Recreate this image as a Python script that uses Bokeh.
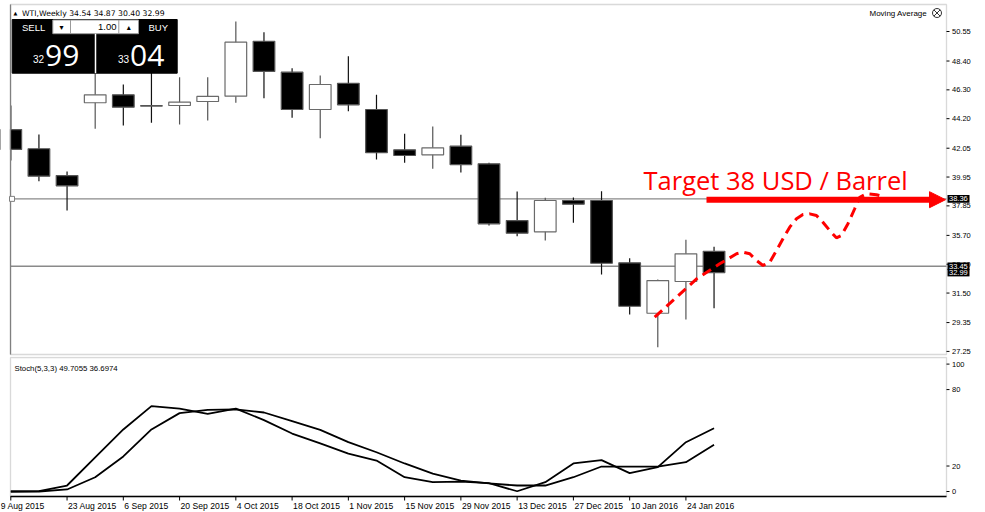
from bokeh.plotting import figure
from bokeh.layouts import column
from bokeh.models import (Arrow, NormalHead, Range1d, ColumnDataSource, BoxAnnotation)
from bokeh.core.properties import value
from bokeh.embed import file_html
from bokeh.resources import INLINE

# ---------------- data ----------------
DATE_LABELS = ["9 Aug 2015", "23 Aug 2015", "6 Sep 2015", "20 Sep 2015", "4 Oct 2015",
               "18 Oct 2015", "1 Nov 2015", "15 Nov 2015", "29 Nov 2015", "13 Dec 2015",
               "27 Dec 2015", "10 Jan 2016", "24 Jan 2016"]
DATE_TICK_IDX = [0, 2, 4, 6, 8, 10, 12, 14, 16, 18, 20, 22, 24]

OPEN = [43.41, 42.01, 40.06, 45.36, 45.94, 45.15, 45.16, 45.45, 45.84, 49.84, 47.59, 44.87, 46.78,
        44.87, 41.93, 41.57, 42.20, 40.91, 36.78, 35.96, 38.24, 38.24, 33.70, 30.03, 32.34, 34.54]
HIGH = [45.16, 43.05, 40.35, 48.10, 46.69, 47.90, 47.22, 47.22, 51.28, 50.50, 47.88, 47.35, 48.75,
        45.94, 43.10, 43.63, 43.03, 40.99, 38.90, 38.44, 38.46, 38.92, 34.04, 32.49, 35.38, 34.87]
LOW = [41.15, 39.65, 37.51, 43.46, 43.70, 43.90, 43.78, 44.07, 45.36, 45.69, 44.26, 42.78, 44.75,
       41.23, 40.99, 40.55, 40.28, 36.42, 35.64, 35.33, 36.62, 32.85, 29.94, 27.56, 29.57, 30.40]
CLOSE = [41.96, 40.01, 39.31, 45.94, 45.04, 45.12, 45.40, 45.82, 49.77, 47.64, 44.87, 46.69, 45.21,
         41.72, 41.52, 42.08, 40.86, 36.54, 35.86, 38.24, 37.97, 33.67, 30.54, 32.41, 34.36, 32.99]

STOCH_K = [0.0, 0.3, 4.7, 26.7, 48.7, 67.0, 65.1, 61.0, 65.1, 56.0, 45.5, 37.7, 29.8,
           24.3, 11.2, 7.3, 7.8, 6.5, 0.2, 7.3, 22.0, 24.6, 14.4, 19.1, 38.7, 49.7]
STOCH_D = [0.0, 0.0, 1.6, 11.2, 27.5, 48.7, 61.5, 64.1, 64.4, 62.0, 55.2, 48.4, 38.7,
           30.8, 22.0, 14.1, 8.6, 6.3, 4.7, 4.7, 11.2, 19.6, 19.6, 19.6, 23.0, 36.7]

PRICE_TICKS = [50.55, 48.40, 46.30, 44.20, 42.05, 39.95, 37.85, 35.70, 33.60, 31.50, 29.35, 27.25]
STOCH_TICKS = [0, 20, 80, 100]
LEVEL_LINES = [38.36, 33.45]
BID_PRICE = 32.99
TARGET_PRICE = 38.30

# hand-drawn projected path (bar index, price)
FORECAST_IDX = [22.89, 24.38, 25.20, 25.80, 26.03, 26.27, 26.51, 26.74, 26.98, 27.22, 27.45, 27.69,
                27.93, 28.16, 28.40, 28.64, 28.87, 29.11, 29.35, 29.53, 29.76, 30.00, 30.18, 30.42,
                30.77, 31.01]
FORECAST_PRICE = [29.74, 32.54, 33.63, 34.36, 34.48, 34.36, 33.87, 33.51, 33.75, 34.60, 35.45, 36.30,
                  36.91, 37.22, 37.27, 37.15, 36.66, 36.06, 35.52, 35.69, 36.55, 37.64, 38.48, 38.73,
                  38.66, 38.53]

# ---------------- page calibration (pixels) ----------------
W = 985
MAIN_H = 356
STOCH_H = 156
PX_PER_BAR = 28.13
BAR0_PX = 10.3
PX_PER_USD = 13.73
PRICE_REF, PRICE_REF_PX = 50.55, 31.0
PX_PER_STOCH = 1.274
STOCH0_PX = 491.0


def px_x(px):
    return (px - BAR0_PX) / PX_PER_BAR


def px_y(py):
    return PRICE_REF - (py - PRICE_REF_PX) / PX_PER_USD


def px_s(py):
    return (STOCH0_PX - py) / PX_PER_STOCH


SMALL = "Liberation Sans"
FRAME_COL = "#808080"


def make_fig(h, yr):
    f = figure(output_backend="svg", toolbar_location=None,
               x_range=Range1d(px_x(0), px_x(W)), y_range=yr,
               x_axis_location=None, y_axis_location=None,
               frame_width=W, frame_height=h)
    f.min_border = 0
    f.min_border_left = 0
    f.min_border_right = 0
    f.min_border_top = 0
    f.min_border_bottom = 0
    f.outline_line_color = None
    f.background_fill_color = "white"
    f.border_fill_color = "white"
    f.grid.visible = False
    return f


# ---------------- main price panel ----------------
p1 = make_fig(MAIN_H, Range1d(px_y(MAIN_H), px_y(0)))

p1.add_layout(BoxAnnotation(left=px_x(10), right=px_x(946), top=px_y(4), bottom=px_y(354),
                            fill_alpha=0, line_color=FRAME_COL, line_width=1.3, level="underlay"))

for lv in LEVEL_LINES:
    p1.segment(x0=[px_x(10)], y0=[lv], x1=[px_x(946)], y1=[lv], line_color="#8a8a8a", line_width=1.4)

idx = list(range(len(OPEN)))
up = [c >= o for o, c in zip(OPEN, CLOSE)]


def sub(arr, flag):
    return [a for a, f in zip(arr, up) if f == flag]


for flag, body, wick, edge in [(True, "white", "#555555", "#6a6a6a"), (False, "black", "#111111", "#555555")]:
    src = ColumnDataSource(dict(
        x=sub(idx, flag), h=sub(HIGH, flag), l=sub(LOW, flag),
        top=[max(o, c) for o, c in zip(sub(OPEN, flag), sub(CLOSE, flag))],
        bot=[min(o, c) for o, c in zip(sub(OPEN, flag), sub(CLOSE, flag))]))
    p1.segment(x0="x", y0="h", x1="x", y1="l", source=src, line_color=wick, line_width=1.2)
    p1.vbar(x="x", width=0.77, top="top", bottom="bot", source=src,
            fill_color=body, line_color=edge, line_width=1.2)

# hide anything left of the chart border
p1.quad(left=[px_x(0)], right=[px_x(9.4)], top=[px_y(0)], bottom=[px_y(MAIN_H)],
        fill_color="white", line_color=None)
p1.segment(x0=[px_x(10)], y0=[px_y(4)], x1=[px_x(10)], y1=[px_y(354)], line_color=FRAME_COL, line_width=1.3)

# marker at left end of the level line
p1.scatter(x=[px_x(11.5)], y=[LEVEL_LINES[0]], marker="square", size=5,
           fill_color="white", line_color=FRAME_COL)

# projected dashed path
p1.line(FORECAST_IDX, FORECAST_PRICE, line_color="#ff0000", line_width=3, line_dash="10 6")

# target arrow and text
p1.add_layout(Arrow(end=NormalHead(size=16, fill_color="#ff0000", line_color="#ff0000"),
                    x_start=px_x(706), y_start=TARGET_PRICE, x_end=px_x(945), y_end=TARGET_PRICE,
                    line_color="#ff0000", line_width=6))
p1.text(x=[px_x(643)], y=[px_y(179.5)], text=["Target 38 USD / Barrel"], text_color="#ff0000",
        text_font=value("Open Sans"), text_font_size="25.5px", text_baseline="middle")

# one-click trading panel
p1.quad(left=[px_x(11.7)], right=[px_x(176.7)], top=[px_y(19)], bottom=[px_y(72.7)],
        fill_color="black", line_color="black")
p1.quad(left=[px_x(52.3)], right=[px_x(138)], top=[px_y(19.5)], bottom=[px_y(33.2)],
        fill_color="white", line_color="#9a9a9a", line_width=1)
p1.segment(x0=[px_x(70), px_x(118.3)], y0=[px_y(19.5)] * 2, x1=[px_x(70), px_x(118.3)],
           y1=[px_y(33.2)] * 2, line_color="#9a9a9a", line_width=1)
p1.segment(x0=[px_x(95)], y0=[px_y(33.2)], x1=[px_x(95)], y1=[px_y(72.7)],
           line_color="white", line_width=1.5)
p1.text(x=[px_x(21.5), px_x(148)], y=[px_y(26.5)] * 2, text=["SELL", "BUY"], text_color="white",
        text_font=value(SMALL), text_font_size="9.5px", text_baseline="middle")
p1.text(x=[px_x(61), px_x(128.3)], y=[px_y(26.5)] * 2, text=["\u25BE", "\u25B4"], text_color="black",
        text_font=value("DejaVu Sans"), text_font_size="8px", text_baseline="middle", text_align="center")
p1.text(x=[px_x(116)], y=[px_y(26.5)], text=["1.00"], text_color="black",
        text_font=value(SMALL), text_font_size="9.5px", text_baseline="middle", text_align="right")
p1.text(x=[px_x(43.5), px_x(128.5)], y=[px_y(58.5)] * 2, text=["32", "33"], text_color="white",
        text_font=value(SMALL), text_font_size="10px", text_baseline="middle", text_align="right")
p1.text(x=[px_x(44.5), px_x(129.5)], y=[px_y(54.5)] * 2, text=["99", "04"], text_color="white",
        text_font=value("Open Sans"), text_font_size="30px", text_baseline="middle")

# header texts
p1.text(x=[px_x(15)], y=[px_y(12.7)], text=["\u25B2"], text_color="black",
        text_font=value("DejaVu Sans"), text_font_size="5px", text_baseline="middle", text_align="center")
p1.text(x=[px_x(21.5)], y=[px_y(12.7)], text=["WTI,Weekly  34.54 34.87 30.40 32.99"], text_color="black",
        text_font=value("DejaVu Sans"), text_font_size="7.7px", text_baseline="middle")
p1.text(x=[px_x(869)], y=[px_y(12.7)], text=["Moving Average"], text_color="black",
        text_font=value(SMALL), text_font_size="8px", text_baseline="middle")
p1.scatter(x=[px_x(936.5)], y=[px_y(12.5)], marker="circle_x", size=9,
           fill_color="white", line_color="black", line_width=0.8)

# right price scale (drawn from PRICE_TICKS)
p1.segment(x0=[px_x(946)] * len(PRICE_TICKS), y0=PRICE_TICKS, x1=[px_x(949)] * len(PRICE_TICKS),
           y1=PRICE_TICKS, line_color="black", line_width=1)
p1.text(x=[px_x(951.5)] * len(PRICE_TICKS), y=PRICE_TICKS, text=["%.2f" % t for t in PRICE_TICKS],
        text_color="black", text_font=value(SMALL), text_font_size="7.5px", text_baseline="middle")
box_prices = [LEVEL_LINES[0], LEVEL_LINES[1], BID_PRICE]
half = 3.8 / PX_PER_USD
p1.quad(left=[px_x(947)] * 3, right=[px_x(969)] * 3, top=[b + half for b in box_prices],
        bottom=[b - half for b in box_prices], fill_color="black", line_color=None)
p1.text(x=[px_x(948.5)] * 3, y=box_prices, text=["%.2f" % b for b in box_prices],
        text_color="white", text_font=value(SMALL), text_font_size="7.5px", text_baseline="middle")

# ---------------- stochastic panel ----------------
p2 = make_fig(STOCH_H, Range1d(px_s(MAIN_H + STOCH_H), px_s(MAIN_H)))
p2.x_range = p1.x_range

p2.add_layout(BoxAnnotation(left=px_x(10), right=px_x(946), top=px_s(357), bottom=px_s(496),
                            fill_alpha=0, line_color=FRAME_COL, line_width=1.3, level="underlay"))

p2.line(idx, STOCH_D, line_color="black", line_width=1.8)
p2.line(idx, STOCH_K, line_color="black", line_width=1.8)
p2.text(x=[px_x(14)], y=[px_s(368)], text=["Stoch(5,3,3) 49.7055 36.6974"], text_color="black",
        text_font=value(SMALL), text_font_size="7.8px", text_baseline="middle")

# right stochastic scale
p2.segment(x0=[px_x(946)] * len(STOCH_TICKS), y0=STOCH_TICKS, x1=[px_x(949)] * len(STOCH_TICKS),
           y1=STOCH_TICKS, line_color="black", line_width=1)
p2.text(x=[px_x(951.5)] * len(STOCH_TICKS), y=STOCH_TICKS, text=[str(t) for t in STOCH_TICKS],
        text_color="black", text_font=value(SMALL), text_font_size="7.5px", text_baseline="middle")

# time axis
p2.segment(x0=[px_x(10)], y0=[px_s(496)], x1=[px_x(946)], y1=[px_s(496)], line_color="black", line_width=1.3)
p2.segment(x0=DATE_TICK_IDX, y0=[px_s(496)] * len(DATE_TICK_IDX), x1=DATE_TICK_IDX,
           y1=[px_s(500)] * len(DATE_TICK_IDX), line_color="black", line_width=1)
p2.text(x=DATE_TICK_IDX, y=[px_s(505)] * len(DATE_TICK_IDX), text=DATE_LABELS,
        x_offset=[-10] + [1] * (len(DATE_TICK_IDX) - 1),
        text_color="black", text_font=value(SMALL), text_font_size="8.6px", text_baseline="middle")

layout = column(p1, p2, spacing=0)
open("out.html", "w").write(file_html(layout, INLINE))
